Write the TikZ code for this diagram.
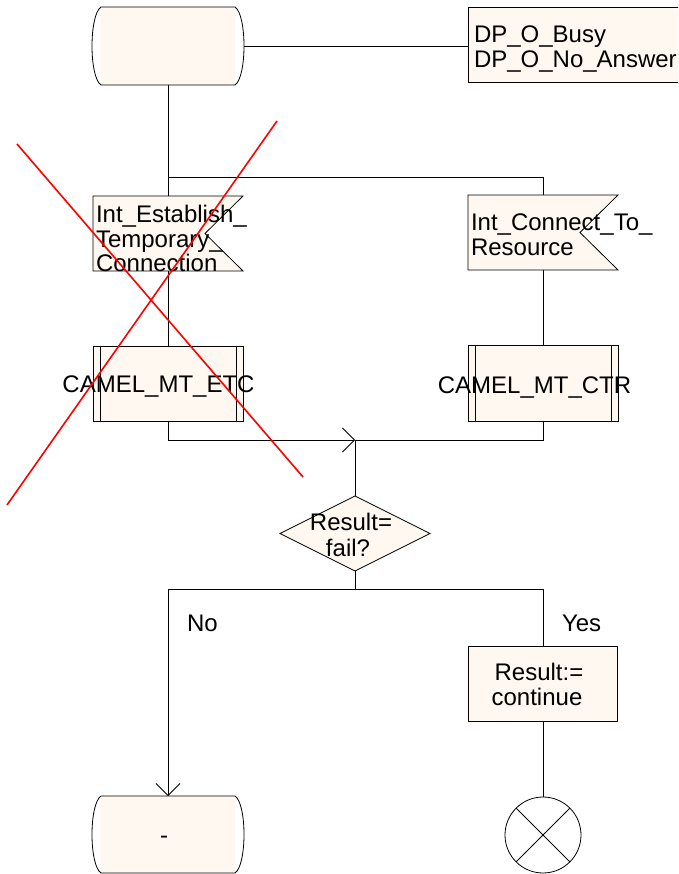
\documentclass[tikz,border=0pt]{standalone}
\usepackage{fontspec}
\setmainfont{Liberation Sans}
\usetikzlibrary{arrows.meta,calc}
\definecolor{boxfill}{HTML}{FFF8F0}
\begin{document}
\begin{tikzpicture}[x=1pt,y=-1pt,
  every node/.style={font=\fontsize{24}{25}\selectfont, inner sep=0pt, outer sep=0pt},
  line/.style={draw=black, line width=0.8pt},
  outline/.style={line, fill=boxfill},
  area/.style={minimum width=150pt, minimum height=75pt},
  box/.style={area, outline, rectangle},
  flow/.style={line},
  arrowflow/.style={line, -{Straight Barb[length=12pt,width=24pt,line width=0.8pt]}},
  txt/.style={anchor=base west},
  ctxt/.style={anchor=base},
  cross/.style={draw=red, line width=1.6pt}
]
\useasboundingbox (0,0) rectangle (678,874);
\clip (0,0) rectangle (678,874);

% ---- anchor areas of the symbols ----
\node[area, minimum width=152pt, minimum height=78pt] (start) at (168,46) {};
\node[box, minimum width=222pt] (dp) at (579,44.5) {};
\node[area] (etcflag) at (168,233.5) {};
\node[area] (ctrflag) at (543,232.5) {};
\node[box] (etcproc) at (168,383.5) {};
\node[box, minimum height=76pt] (ctrproc) at (543,383) {};
\node[area] (decision) at (355,533.5) {};
\node[box, minimum width=149pt] (resbox) at (543,683.5) {};
\node[area, minimum width=152pt, minimum height=77pt] (endstate) at (168,834.5) {};
\node[draw, line width=0.8pt, circle, minimum size=76pt] (term) at (543,835) {};

\coordinate (split) at (168,177);
\coordinate (merge) at (355,440);
\coordinate (split2) at (355,589);

% ---- state symbols (straight top/bottom, bulging sides) ----
\foreach \s in {start,endstate}{
  \fill[boxfill] ([xshift=9pt]\s.north west) rectangle ([xshift=-9pt]\s.south east);
  \draw[line] ([xshift=9pt]\s.north west) -- ([xshift=-9pt]\s.north east)
    .. controls ([xshift=3pt,yshift=-8pt]\s.north east) and ([xshift=3pt,yshift=8pt]\s.south east)
    .. ([xshift=-9pt]\s.south east) -- ([xshift=9pt]\s.south west)
    .. controls ([xshift=-3pt,yshift=8pt]\s.south west) and ([xshift=-3pt,yshift=-8pt]\s.north west)
    .. ([xshift=9pt]\s.north west);
}

% ---- input signal symbols (notch on the right) ----
\foreach \s in {etcflag,ctrflag}{
  \draw[outline] (\s.north west) -- (\s.north east) -- ([xshift=-38pt]\s.east)
    -- (\s.south east) -- (\s.south west) -- cycle;
}

% ---- procedure call bars ----
\foreach \s in {etcproc,ctrproc}{
  \draw[line] ([xshift=7pt]\s.north west) -- ([xshift=7pt]\s.south west);
  \draw[line] ([xshift=-7pt]\s.north east) -- ([xshift=-7pt]\s.south east);
}

% ---- decision ----
\draw[outline] (decision.north) -- (decision.east) -- (decision.south) -- (decision.west) -- cycle;

% ---- terminator cross ----
\draw[line] (term.north west) -- (term.south east);
\draw[line] (term.north east) -- (term.south west);

% ---- connectors ----
\draw[flow] (start.east) -- (start.east -| dp.west);
\draw[flow] (start.south) -- (etcflag.north);
\draw[flow] (split) -| (ctrflag.north);
\draw[flow] (etcflag.south) -- (etcproc.north);
\draw[flow] (ctrflag.south) -- (ctrproc.north);
\draw[arrowflow] (etcproc.south) |- (merge);
\draw[flow] (ctrproc.south) |- (merge);
\draw[flow] (merge) -- (decision.north);
\draw[flow] (decision.south) -- (split2);
\draw[flow] (split2) -| (resbox.north);
\draw[arrowflow] (split2) -| (endstate.north);
\draw[flow] (resbox.south) -- (term.north);

% ---- texts ----
\node[txt] (dp1) at (474,43) {DP\_O\_Busy};
\node[txt] (dp2) at (474,67.5) {DP\_O\_No\_Answer};
\node[txt] (etc1) at (96,223) {Int\_Establish\_};
\node[txt] (etc2) at (96,247.5) {Temporary\_};
\node[txt] (etc3) at (96,272) {Connection};
\node[txt] (ctr1) at (471,230.5) {Int\_Connect\_To\_};
\node[txt] (ctr2) at (471,256) {Resource};
\node[ctxt] (etcname) at (158.5,392) {CAMEL\_MT\_ETC};
\node[ctxt] (ctrname) at (534.5,393) {CAMEL\_MT\_CTR};
\node[ctxt] (dec1) at (351,530) {Result=};
\node[ctxt] (dec2) at (348,556) {fail?};
\node[txt] (no) at (187,631) {No};
\node[txt] (yes) at (562,631) {Yes};
\node[ctxt] (res1) at (539,680) {Result:=};
\node[ctxt] (res2) at (537,705) {continue};
\node[ctxt] (dash) at (164,843) {-};

% ---- strike-through ----
\draw[cross] (17,144) -- (303,477);
\draw[cross] (277,121) -- (7,505);
\end{tikzpicture}
\end{document}
